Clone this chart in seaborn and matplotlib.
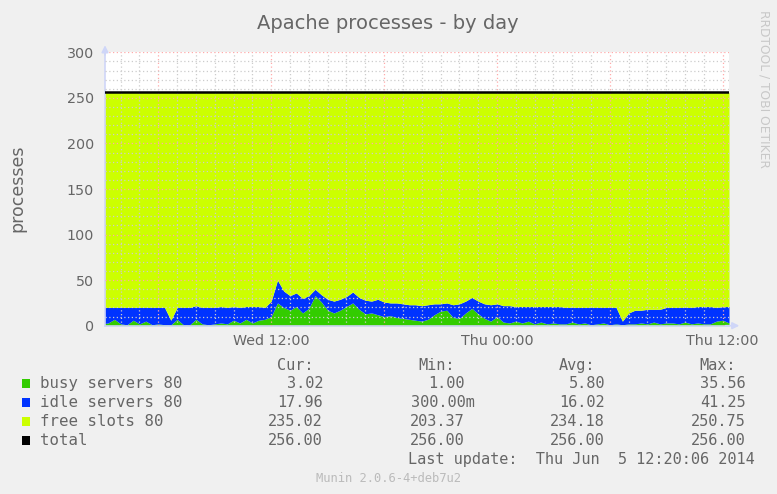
import matplotlib

matplotlib.use("Agg")

import matplotlib.pyplot as plt
import matplotlib.dates as mdates
from matplotlib.ticker import MultipleLocator, FuncFormatter
from matplotlib.patches import Rectangle
import seaborn as sns
import pandas as pd

# -----------------------------
# Data (20 minute samples, Wed 03:00 -> Thu 12:20)
# -----------------------------
start_time = "2014-06-04 03:00"

busy = [2,
        3, 7, 2, 1, 6, 2, 5, 1, 2, 1,
        1, 7, 1, 1, 7, 2, 1, 2, 3, 2,
        6, 3, 7, 3, 6, 7, 10, 25, 20, 17,
        21, 14, 19, 33, 26, 17, 14, 17, 21, 25,
        18, 13, 14, 12, 10, 11, 9, 8, 7, 6,
        5, 7, 12, 16, 17, 9, 8, 14, 19, 13,
        8, 5, 10, 4, 3, 5, 3, 5, 2, 4,
        2, 3, 2, 2, 4, 2, 3, 1, 2, 3,
        1, 2, 1, 2, 2, 3, 2, 4, 2, 3,
        3, 2, 4, 2, 3, 2, 2, 5, 6, 3]

idle = [18,
        17, 13, 18, 19, 14, 18, 15, 19, 18, 19,
        5, 13, 19, 19, 15, 18, 19, 18, 18, 18,
        15, 17, 14, 18, 15, 13, 17, 25, 18, 16,
        15, 16, 14, 7, 8, 12, 13, 12, 11, 12,
        13, 15, 13, 17, 16, 14, 16, 16, 16, 17,
        17, 16, 12, 8, 8, 14, 16, 13, 12, 14,
        16, 18, 14, 18, 19, 16, 18, 16, 19, 17,
        19, 18, 19, 18, 16, 18, 17, 19, 18, 17,
        19, 18, 4, 12, 15, 14, 16, 14, 16, 17,
        17, 18, 16, 18, 18, 19, 19, 15, 15, 18]

total_slots = 256

series_names = ["busy servers 80", "idle servers 80", "free slots 80", "total"]
series_colors = ["#33CC00", "#0033FF", "#CCFF00", "#000000"]
cur_vals = ["3.02", "17.96", "235.02", "256.00"]
min_vals = ["1.00", "300.00m", "203.37", "256.00"]
avg_vals = ["5.80", "16.02", "234.18", "256.00"]
max_vals = ["35.56", "41.25", "250.75", "256.00"]

# -----------------------------
# Build frame
# -----------------------------
df = pd.DataFrame({"busy": busy, "idle": idle})
df["time"] = pd.date_range(start_time, periods=len(df), freq="20min")
df["workers"] = df["busy"] + df["idle"]
df["total"] = total_slots

# -----------------------------
# Style
# -----------------------------
sns.set_theme(style="white")
plt.rcParams["font.family"] = ["DejaVu Sans"]

FONT = "#666666"
BG = "#F0F0F0"
W, H = 777, 494


def fx(px):
    return px / W


def fy(py):
    return 1 - py / H


fig = plt.figure(figsize=(7.77, 4.94), dpi=100, facecolor=BG)
ax = fig.add_axes([fx(105), fy(325.7), (729 - 105) / W, (325.7 - 52.3) / H])
ax.set_facecolor("white")

# stacked areas
ax.fill_between(df["time"], 0, df["busy"], color=series_colors[0], lw=0, zorder=1)
ax.fill_between(df["time"], df["busy"], df["workers"], color=series_colors[1], lw=0, zorder=1)
ax.fill_between(df["time"], df["workers"], df["total"], color=series_colors[2], lw=0, zorder=1)
sns.lineplot(data=df, x="time", y="total", color="black", lw=1.8, ax=ax, zorder=3)

# axes
ax.set_ylim(0, 300)
ax.set_xlim(pd.Timestamp("2014-06-04 03:10"), pd.Timestamp("2014-06-05 12:20"))
ax.yaxis.set_major_locator(MultipleLocator(50))
ax.yaxis.set_minor_locator(MultipleLocator(10))
ax.xaxis.set_major_locator(mdates.HourLocator(byhour=[0, 6, 12, 18]))
ax.xaxis.set_minor_locator(mdates.HourLocator())


def time_label(v, pos):
    d = mdates.num2date(v)
    if d.hour in (0, 12):
        return d.strftime("%a %H:%M")
    return ""


ax.xaxis.set_major_formatter(FuncFormatter(time_label))
ax.set_xlabel("")
ax.set_ylabel("")

ax.set_axisbelow(False)
ax.grid(which="major", color="#FFAAAA", lw=0.9, ls=(0, (1, 2)))
ax.grid(which="minor", color="#CCCCCC", lw=0.9, ls=(0, (1, 2)))

ax.tick_params(which="both", direction="out", labelsize=10.3, labelcolor=FONT)
ax.tick_params(which="major", length=3, color="#FFAAAA", width=0.8, pad=3)
ax.tick_params(which="minor", length=2, color="#CCCCCC", width=0.8)
ax.tick_params(axis="y", which="major", pad=5)

for s in ["top", "right"]:
    ax.spines[s].set_visible(False)
for s in ["left", "bottom"]:
    ax.spines[s].set_color("#CFD6F8")
    ax.spines[s].set_linewidth(1.2)

# arrows
ax.annotate("", xy=(0, 1.036), xytext=(0, 0.98), xycoords="axes fraction",
            arrowprops=dict(arrowstyle="-|>", color="#CFD6F8", lw=1.2, mutation_scale=10),
            annotation_clip=False)
ax.annotate("", xy=(1.021, 0), xytext=(0.99, 0), xycoords="axes fraction",
            arrowprops=dict(arrowstyle="-|>", color="#CFD6F8", lw=1.2, mutation_scale=10),
            annotation_clip=False)

# titles
fig.text(fx(388), fy(29), "Apache processes - by day", ha="center", va="baseline",
         fontsize=14, color=FONT)
fig.text(fx(17.5), fy(188), "processes", rotation=90, ha="center", va="center",
         fontsize=12.5, color=FONT)
fig.text(fx(764), fy(89), "RRDTOOL / TOBI OETIKER", rotation=270, ha="center",
         va="center", fontsize=8.8, color="#C8C8C8")

# legend
mono = "DejaVu Sans Mono"
headers = [("Cur:", 277), ("Min:", 418), ("Avg:", 559), ("Max:", 699)]
for label, x in headers:
    fig.text(fx(x), fy(365), label, ha="left", va="center", family=mono,
             fontsize=11, color=FONT)

row_y = [383, 402, 421, 440]
for i, name in enumerate(series_names):
    y = row_y[i]
    fig.add_artist(Rectangle((fx(22), fy(y + 4.5)), 8 / W, 9 / H,
                             transform=fig.transFigure, facecolor=series_colors[i],
                             edgecolor="none"))
    fig.text(fx(40), fy(y), name, ha="left", va="center", family=mono,
             fontsize=11.3, color=FONT)
    for vals, x in [(cur_vals, 323), (min_vals, 465), (avg_vals, 605), (max_vals, 746)]:
        v = vals[i]
        xx = x + 9.5 if v.endswith("m") else x
        fig.text(fx(xx), fy(y), v, ha="right", va="center", family=mono,
                 fontsize=11, color=FONT)

fig.text(fx(408), fy(459), "Last update:  Thu Jun  5 12:20:06 2014", ha="left",
         va="center", family=mono, fontsize=11, color=FONT)
fig.text(fx(389), fy(478), "Munin 2.0.6-4+deb7u2", ha="center", va="center",
         family=mono, fontsize=8.7, color="#BBBBBB")

plt.savefig("out.png", dpi=100, facecolor=BG)
plt.close()
